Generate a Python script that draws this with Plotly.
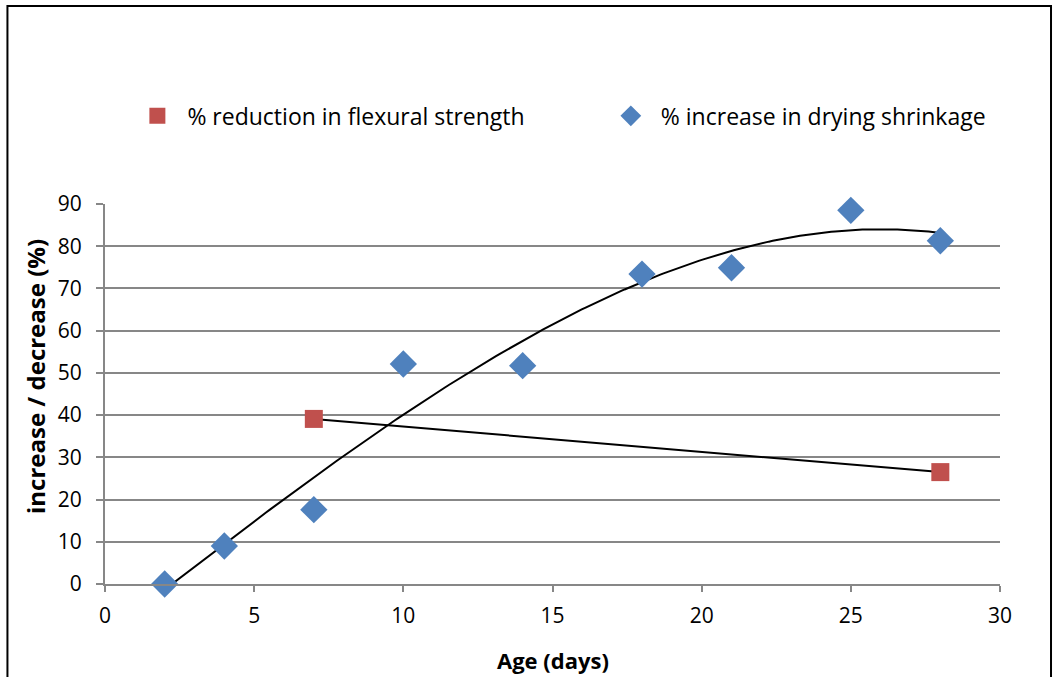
import numpy as np
import plotly.graph_objects as go

# Measured values
age_flex = [7, 28]
flex_reduction = [39.1, 26.5]

age_shrink = [2, 4, 7, 10, 14, 18, 21, 25, 28]
shrink_increase = [0.0, 9.0, 17.6, 52.1, 51.7, 73.4, 74.9, 88.5, 81.3]

x_ticks = [0, 5, 10, 15, 20, 25, 30]
y_ticks = [0, 10, 20, 30, 40, 50, 60, 70, 80, 90]

FONT = "Open Sans"
RED = "#C0504D"
BLUE = "#4F81BD"
GRID = "#878787"

# Trend lines: linear for flexural strength, polynomial for shrinkage
lin = np.polyfit(age_flex, flex_reduction, 1)
xs_lin = np.linspace(min(age_flex), max(age_flex), 50)
poly = np.polyfit(age_shrink, shrink_increase, 3)
xs_poly = np.linspace(min(age_shrink), max(age_shrink), 200)

fig = go.Figure()
fig.add_trace(go.Scatter(x=xs_lin, y=np.polyval(lin, xs_lin), mode="lines",
                         line=dict(color="black", width=2), showlegend=False,
                         hoverinfo="skip"))
fig.add_trace(go.Scatter(x=xs_poly, y=np.polyval(poly, xs_poly), mode="lines",
                         line=dict(color="black", width=2), showlegend=False,
                         hoverinfo="skip"))
fig.add_trace(go.Scatter(x=age_flex, y=flex_reduction, mode="markers",
                         name="% reduction in flexural strength", cliponaxis=False,
                         legend="legend",
                         marker=dict(symbol="square", size=18, color=RED)))
fig.add_trace(go.Scatter(x=age_shrink, y=shrink_increase, mode="markers",
                         name="% increase in drying shrinkage", cliponaxis=False,
                         legend="legend2",
                         marker=dict(symbol="diamond", size=21, color=BLUE)))

legend_style = dict(orientation="h", yanchor="middle", xanchor="left",
                    font=dict(family=FONT, size=23), itemwidth=50,
                    bgcolor="rgba(0,0,0,0)")

fig.update_layout(
    width=1055, height=677,
    margin=dict(l=105, r=55, t=204, b=93),
    paper_bgcolor="white", plot_bgcolor="white",
    font=dict(family=FONT, size=21, color="black"),
    showlegend=True,
    legend=dict(x=0.025, y=1.232, **legend_style),
    legend2=dict(x=0.554, y=1.232, **legend_style),
    xaxis=dict(range=[0, 30], tickvals=x_ticks, showgrid=False, zeroline=False,
               showline=True, linecolor=GRID, linewidth=2,
               ticks="outside", ticklen=6, tickcolor=GRID, tickwidth=2,
               ticklabelstandoff=6,
               tickfont=dict(family=FONT, size=21)),
    yaxis=dict(range=[0, 90], tickvals=y_ticks, showgrid=True, gridcolor=GRID,
               gridwidth=2, zeroline=False, showline=True, linecolor=GRID,
               linewidth=2, ticks="outside", ticklen=7, tickcolor=GRID,
               tickwidth=2, ticklabelstandoff=10,
               tickfont=dict(family=FONT, size=21)),
    annotations=[
        dict(text="<b>Age (days)</b>", x=0.5, y=-0.2, xref="paper", yref="paper",
             showarrow=False, font=dict(family=FONT, size=22), yanchor="middle"),
        dict(text="<b>increase / decrease (%)</b>", x=-0.077, y=0.545,
             xref="paper", yref="paper", textangle=-90, showarrow=False,
             font=dict(family=FONT, size=24), xanchor="center", yanchor="middle"),
    ],
    shapes=[
        dict(type="rect", xref="paper", yref="paper", x0=-0.109, x1=1.057,
             y0=-0.35, y1=1.521, line=dict(color="black", width=2),
             fillcolor="rgba(0,0,0,0)", layer="above"),
    ],
)

fig.write_html("out.html")
